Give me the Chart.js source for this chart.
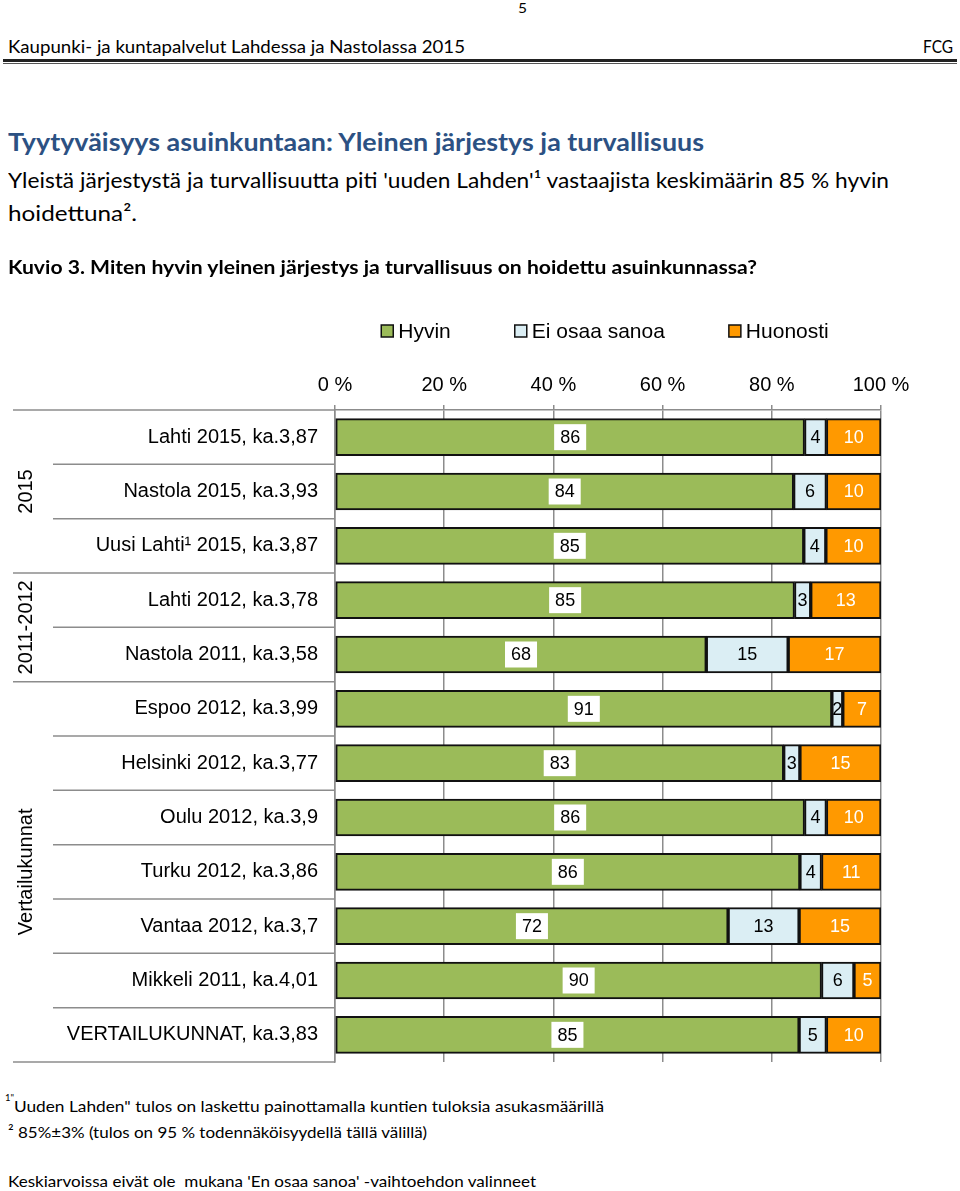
<!DOCTYPE html>
<html>
<head>
<meta charset="utf-8">
<script src="https://cdn.jsdelivr.net/npm/chart.js@4.4.1/dist/chart.umd.min.js"></script>
<style>
  body { margin: 0; background: #fff; width: 960px; height: 1191px; position: relative; overflow: hidden; font-family: Lato, sans-serif; color: #000; }
  .t { position: absolute; white-space: pre; line-height: 1; transform-origin: 0 0; z-index: 2; }
  .b { font-weight: bold; }
  .rule { position: absolute; left: 3px; width: 954px; }
  #chart { position: absolute; left: 0; top: 256px; z-index: 1; }
</style>
</head>
<body>
<div class="t" data-x="518" data-base="13" data-fs="14" data-w="9">5</div>
<div class="t" data-x="8" data-base="53" data-fs="18" data-w="457">Kaupunki- ja kuntapalvelut Lahdessa ja Nastolassa 2015</div>
<div class="t" data-x="923" data-base="53" data-fs="18" data-w="30">FCG</div>
<div class="rule" style="top:59px;height:3px;background:#222"></div>
<div class="rule" style="top:63px;height:1px;background:#555"></div>

<div class="t b" style="color:#2C5183" data-x="8" data-base="152" data-fs="24.5" data-w="696">Tyytyväisyys asuinkuntaan: Yleinen järjestys ja turvallisuus</div>
<div class="t" data-x="8" data-base="189" data-fs="22" data-w="881">Yleistä järjestystä ja turvallisuutta piti 'uuden Lahden'¹ vastaajista keskimäärin 85 % hyvin</div>
<div class="t" data-x="8" data-base="222" data-fs="22" data-w="129">hoidettuna².</div>
<div class="t b" data-x="8" data-base="274" data-fs="18" data-w="749">Kuvio 3. Miten hyvin yleinen järjestys ja turvallisuus on hoidettu asuinkunnassa?</div>

<canvas id="chart" width="960" height="835"></canvas>

<div class="t" data-x="5" data-base="1101" data-fs="10" data-w="9">1"</div>
<div class="t" data-x="14" data-base="1112" data-fs="16" data-w="590">Uuden Lahden" tulos on laskettu painottamalla kuntien tuloksia asukasmäärillä</div>
<div class="t" data-x="8" data-base="1138" data-fs="16" data-w="419">² 85%±3% (tulos on 95 % todennäköisyydellä tällä välillä)</div>
<div class="t" data-x="8" data-base="1187" data-fs="16" data-w="528">Keskiarvoissa eivät ole  mukana 'En osaa sanoa' -vaihtoehdon valinneet</div>

<script>
const categories = [
  'Lahti 2015, ka.3,87',
  'Nastola 2015, ka.3,93',
  'Uusi Lahti¹ 2015, ka.3,87',
  'Lahti 2012, ka.3,78',
  'Nastola 2011, ka.3,58',
  'Espoo 2012, ka.3,99',
  'Helsinki 2012, ka.3,77',
  'Oulu 2012, ka.3,9',
  'Turku 2012, ka.3,86',
  'Vantaa 2012, ka.3,7',
  'Mikkeli 2011, ka.4,01',
  'VERTAILUKUNNAT, ka.3,83',
];
const hyvin = [86, 84, 85, 85, 68, 91, 83, 86, 86, 72, 90, 85];
const eiOsaaSanoa = [4, 6, 4, 3, 15, 2, 3, 4, 4, 13, 6, 5];
const huonosti = [10, 10, 10, 13, 17, 7, 15, 10, 11, 15, 5, 10];
const groupNames = ['2015', '2011-2012', 'Vertailukunnat'];
const groupSizes = [3, 2, 7];
const xTickValues = [0, 20, 40, 60, 80, 100];

// page text: fit each line to its width in the original
document.querySelectorAll('.t').forEach(el => {
  const fs = Number(el.dataset.fs);
  el.style.fontSize = fs + 'px';
  el.style.left = el.dataset.x + 'px';
  el.style.top = (el.dataset.base - 0.887 * fs) + 'px';
  const w = el.getBoundingClientRect().width;
  el.style.transform = 'scaleX(' + (el.dataset.w / w) + ')';
});

// 100 % stacked, like the original Excel chart
const rowTotals = categories.map((_, i) => hyvin[i] + eiOsaaSanoa[i] + huonosti[i]);
const toShare = values => values.map((v, i) => v / rowTotals[i] * 100);

Chart.defaults.font.family = '"Liberation Sans", Arial, sans-serif';
Chart.defaults.color = '#000';

const lineGray = '#8c8c8c';
const FONT = '"Liberation Sans", Arial, sans-serif';

// one-row legend with wide gaps (the built-in one wraps at this spacing)
const legendRow = {
  id: 'legendRow',
  afterDraw(chart) {
    const { ctx, chartArea } = chart;
    ctx.save();
    ctx.font = '21px ' + FONT;
    ctx.textBaseline = 'middle';
    const gap = 64;
    const items = chart.data.datasets.map(ds => ({ ds, w: 17 + ctx.measureText(ds.label).width }));
    const total = items.reduce((s, it) => s + it.w, 0) + gap * (items.length - 1);
    let x = (chartArea.left + chartArea.right) / 2 - 3 - total / 2;
    const y = 75;
    items.forEach(({ ds, w }) => {
      ctx.fillStyle = ds.backgroundColor;
      ctx.fillRect(x, y - 6, 12, 12);
      ctx.strokeStyle = '#111';
      ctx.lineWidth = 1.5;
      ctx.strokeRect(x, y - 6, 12, 12);
      ctx.fillStyle = '#000';
      ctx.fillText(ds.label, x + 17, y + 1);
      x += w + gap;
    });
    ctx.restore();
  },
};

const barLabels = {
  id: 'barLabels',
  afterDatasetsDraw(chart) {
    const ctx = chart.ctx;
    ctx.save();
    ctx.font = '18px ' + FONT;
    ctx.textAlign = 'center';
    ctx.textBaseline = 'middle';
    chart.data.datasets.forEach((ds, di) => {
      chart.getDatasetMeta(di).data.forEach((bar, i) => {
        const text = String(ds.values[i]);
        const x = (bar.x + bar.base) / 2;
        const y = bar.y;
        if (ds.labelBox) {
          const w = ctx.measureText(text).width + 12;
          ctx.fillStyle = '#fff';
          ctx.fillRect(x - w / 2, y - 13, w, 26);
        }
        ctx.fillStyle = ds.labelColor;
        ctx.fillText(text, x, y + 1);
      });
    });
    ctx.restore();
  },
};

const groupAxis = {
  id: 'groupAxis',
  afterDraw(chart) {
    const { ctx, chartArea, scales: { y } } = chart;
    const n = categories.length;
    const edge = i => {
      if (i === 0) return chartArea.top;
      if (i === n) return chartArea.bottom;
      return (y.getPixelForValue(i - 1) + y.getPixelForValue(i)) / 2;
    };
    const groupEdges = [0];
    groupSizes.forEach(s => groupEdges.push(groupEdges[groupEdges.length - 1] + s));

    ctx.save();
    ctx.strokeStyle = lineGray;
    ctx.lineWidth = 1.5;
    for (let i = 0; i <= n; i++) {
      const yy = edge(i);
      ctx.beginPath();
      ctx.moveTo(groupEdges.includes(i) ? 13 : 53, yy);
      ctx.lineTo(chartArea.left, yy);
      ctx.stroke();
    }
    ctx.fillStyle = '#000';
    ctx.font = '20px ' + FONT;
    ctx.textAlign = 'center';
    ctx.textBaseline = 'middle';
    groupNames.forEach((name, g) => {
      const mid = (edge(groupEdges[g]) + edge(groupEdges[g + 1])) / 2;
      ctx.save();
      ctx.translate(26, mid);
      ctx.rotate(-Math.PI / 2);
      ctx.fillText(name, 0, 0);
      ctx.restore();
    });
    ctx.restore();
  },
};

new Chart(document.getElementById('chart'), {
  type: 'bar',
  data: {
    labels: categories,
    datasets: [
      { label: 'Hyvin', data: toShare(hyvin), values: hyvin, backgroundColor: '#9BBB59', labelColor: '#000', labelBox: true },
      { label: 'Ei osaa sanoa', data: toShare(eiOsaaSanoa), values: eiOsaaSanoa, backgroundColor: '#DBEEF4', labelColor: '#000', labelBox: false },
      { label: 'Huonosti', data: toShare(huonosti), values: huonosti, backgroundColor: '#FF9900', labelColor: '#fff', labelBox: false },
    ].map(ds => Object.assign(ds, { borderColor: '#111', borderWidth: 2, borderSkipped: false, barThickness: 37 })),
  },
  options: {
    indexAxis: 'y',
    responsive: false,
    animation: false,
    layout: { padding: { left: 0, right: 79, top: 95, bottom: 20 } },
    plugins: {
      legend: { display: false },
      tooltip: { enabled: false },
    },
    scales: {
      x: {
        position: 'top',
        stacked: true,
        min: 0,
        max: 100,
        afterBuildTicks: scale => { scale.ticks = xTickValues.map(value => ({ value })); },
        afterFit: scale => { scale.height = 59; },
        ticks: { padding: 8, maxRotation: 0, font: { size: 20 }, callback: value => value + ' %' },
        grid: { color: lineGray, lineWidth: 1.5, tickLength: 5 },
        border: { color: lineGray, width: 1.5 },
      },
      y: {
        stacked: true,
        afterFit: scale => { scale.width = 335; },
        ticks: { padding: 17, font: { size: 20 } },
        grid: { drawOnChartArea: false, drawTicks: false },
        border: { color: lineGray, width: 1.5 },
      },
    },
  },
  plugins: [legendRow, barLabels, groupAxis],
});
</script>
</body>
</html>
